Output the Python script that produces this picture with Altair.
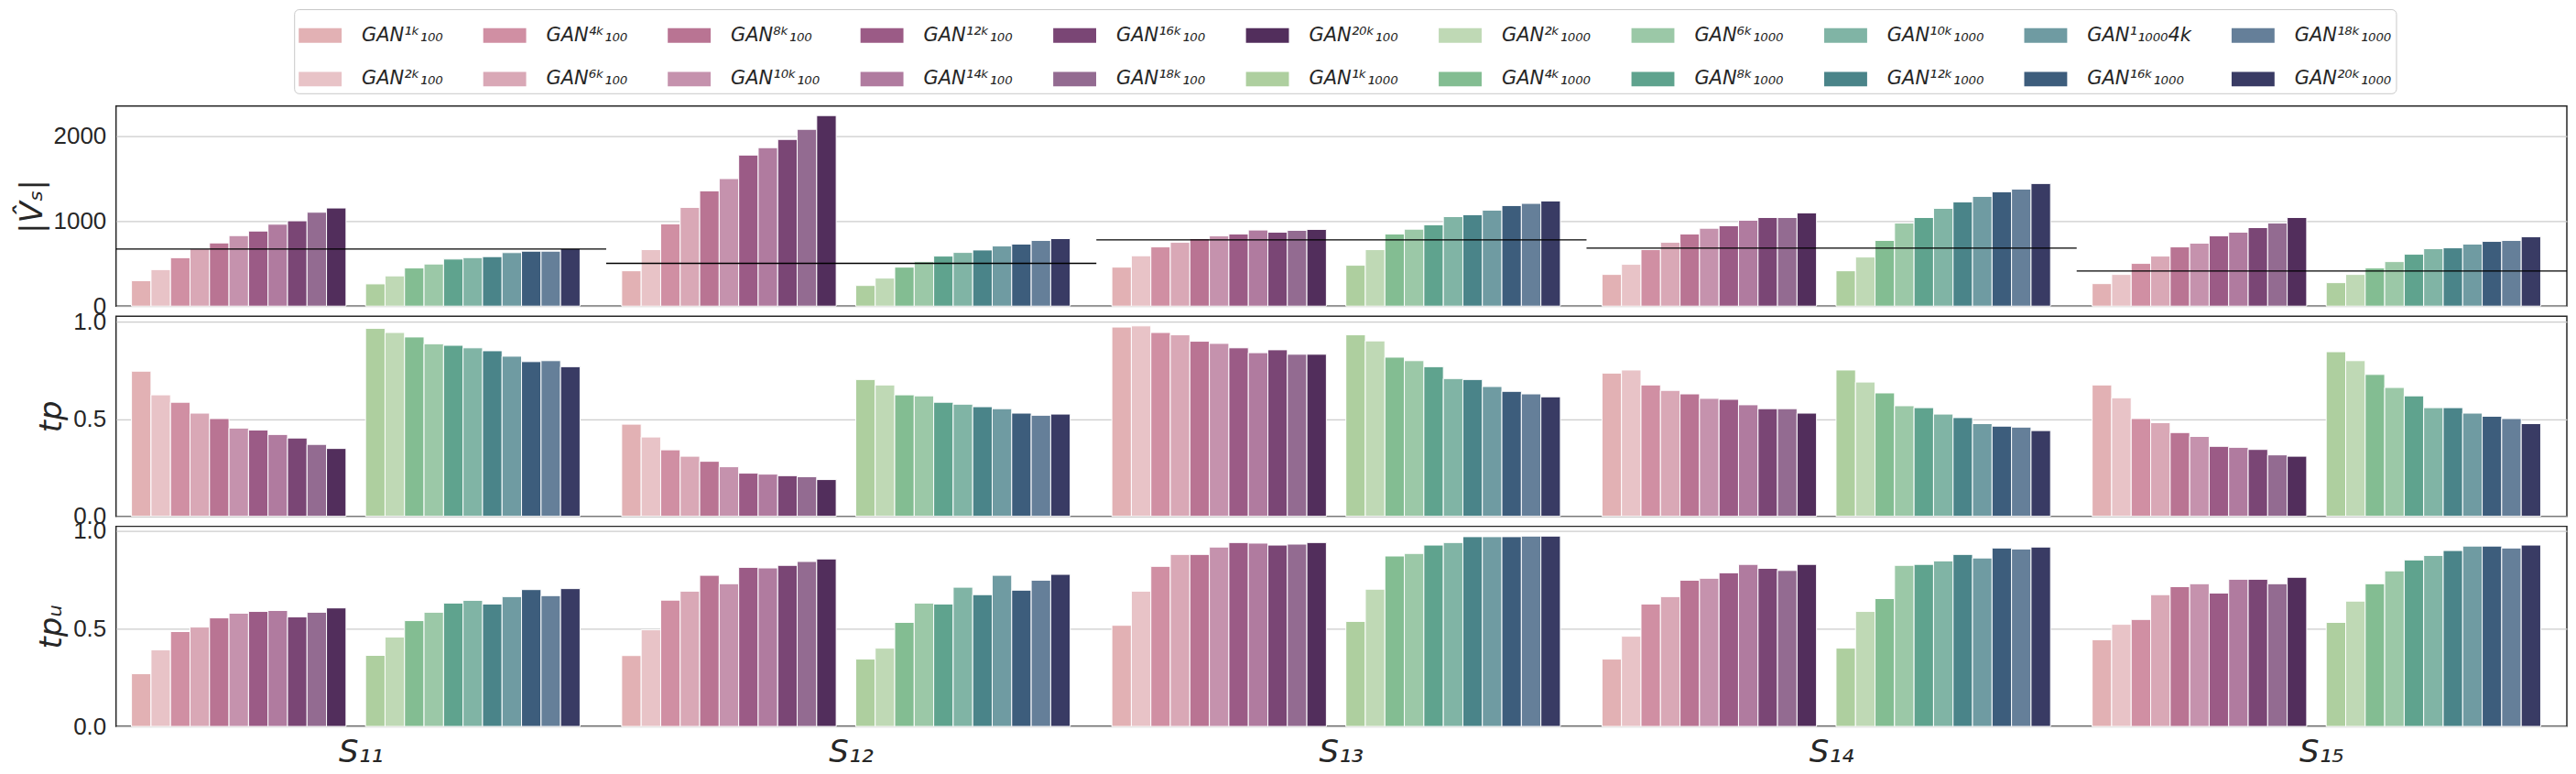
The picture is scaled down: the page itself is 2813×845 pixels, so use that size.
import altair as alt
import pandas as pd

groups = ["S₁₁", "S₁₂", "S₁₃", "S₁₄", "S₁₅"]

labels_100 = ["GAN¹ᵏ₁₀₀", "GAN²ᵏ₁₀₀", "GAN⁴ᵏ₁₀₀", "GAN⁶ᵏ₁₀₀", "GAN⁸ᵏ₁₀₀", "GAN¹⁰ᵏ₁₀₀",
              "GAN¹²ᵏ₁₀₀", "GAN¹⁴ᵏ₁₀₀", "GAN¹⁶ᵏ₁₀₀", "GAN¹⁸ᵏ₁₀₀", "GAN²⁰ᵏ₁₀₀"]
labels_1000 = ["GAN¹ᵏ₁₀₀₀", "GAN²ᵏ₁₀₀₀", "GAN⁴ᵏ₁₀₀₀", "GAN⁶ᵏ₁₀₀₀", "GAN⁸ᵏ₁₀₀₀", "GAN¹⁰ᵏ₁₀₀₀",
               "GAN¹²ᵏ₁₀₀₀", "GAN¹₁₀₀₀4k", "GAN¹⁶ᵏ₁₀₀₀", "GAN¹⁸ᵏ₁₀₀₀", "GAN²⁰ᵏ₁₀₀₀"]

colors_100 = ["#e2b1b4", "#e8c3c7", "#d08fa3", "#d9a8b6", "#b97493", "#c592ad",
              "#9b5b86", "#b07b9f", "#7a4675", "#936b91", "#522e5c"]
colors_1000 = ["#aecf9f", "#bfd9b5", "#83bd92", "#9bc8a7", "#5fa38e", "#80b4a5",
               "#4a8489", "#6f9ba2", "#3d5d7c", "#657f99", "#393b64"]

# |V_S|
vs_100 = [
    [300, 430, 570, 675, 744, 830, 884, 964, 1004, 1105, 1155],
    [416, 665, 968, 1162, 1357, 1501, 1778, 1865, 1962, 2081, 2243],
    [459, 593, 697, 751, 795, 827, 849, 896, 870, 892, 903],
    [373, 492, 665, 751, 849, 917, 946, 1011, 1043, 1043, 1097],
    [265, 373, 503, 589, 697, 741, 827, 870, 924, 978, 1043],
]
vs_1000 = [
    [262, 356, 449, 496, 554, 571, 583, 630, 647, 647, 676],
    [243, 330, 459, 524, 589, 632, 661, 708, 730, 773, 795],
    [481, 665, 849, 906, 957, 1054, 1076, 1130, 1184, 1209, 1238],
    [416, 578, 773, 978, 1043, 1151, 1227, 1292, 1346, 1378, 1443],
    [276, 373, 449, 524, 611, 676, 686, 730, 762, 773, 816],
]
vs_line = [672, 503, 780, 683, 413]

# tp
tp_100 = [
    [0.747, 0.625, 0.587, 0.531, 0.503, 0.454, 0.444, 0.421, 0.403, 0.370, 0.349],
    [0.474, 0.408, 0.342, 0.309, 0.283, 0.255, 0.222, 0.217, 0.209, 0.204, 0.189],
    [0.974, 0.980, 0.946, 0.934, 0.901, 0.890, 0.867, 0.842, 0.857, 0.834, 0.834],
    [0.737, 0.753, 0.676, 0.648, 0.630, 0.607, 0.602, 0.574, 0.554, 0.554, 0.531],
    [0.676, 0.610, 0.503, 0.482, 0.431, 0.411, 0.360, 0.355, 0.344, 0.316, 0.309],
]
tp_1000 = [
    [0.967, 0.946, 0.923, 0.888, 0.880, 0.867, 0.852, 0.824, 0.796, 0.801, 0.770],
    [0.704, 0.676, 0.625, 0.620, 0.587, 0.577, 0.564, 0.554, 0.531, 0.520, 0.526],
    [0.934, 0.903, 0.819, 0.801, 0.770, 0.709, 0.704, 0.668, 0.643, 0.630, 0.615],
    [0.753, 0.691, 0.635, 0.569, 0.559, 0.526, 0.508, 0.477, 0.464, 0.459, 0.441],
    [0.847, 0.801, 0.730, 0.663, 0.620, 0.559, 0.559, 0.531, 0.515, 0.503, 0.477],
]

# tp_u
tpu_100 = [
    [0.270, 0.392, 0.486, 0.509, 0.556, 0.580, 0.589, 0.594, 0.561, 0.585, 0.607],
    [0.363, 0.495, 0.647, 0.693, 0.774, 0.731, 0.815, 0.812, 0.825, 0.845, 0.858],
    [0.518, 0.693, 0.820, 0.881, 0.881, 0.919, 0.942, 0.939, 0.929, 0.934, 0.942],
    [0.345, 0.462, 0.627, 0.665, 0.749, 0.759, 0.787, 0.830, 0.810, 0.799, 0.830],
    [0.444, 0.523, 0.548, 0.675, 0.716, 0.731, 0.683, 0.754, 0.754, 0.731, 0.764],
]
tpu_1000 = [
    [0.364, 0.458, 0.542, 0.585, 0.632, 0.646, 0.627, 0.665, 0.701, 0.670, 0.706],
    [0.345, 0.401, 0.533, 0.632, 0.627, 0.713, 0.675, 0.774, 0.698, 0.749, 0.779],
    [0.538, 0.703, 0.873, 0.886, 0.929, 0.942, 0.972, 0.972, 0.972, 0.975, 0.975],
    [0.401, 0.589, 0.655, 0.825, 0.830, 0.848, 0.881, 0.863, 0.914, 0.909, 0.919],
    [0.533, 0.642, 0.731, 0.797, 0.853, 0.876, 0.901, 0.924, 0.924, 0.914, 0.929],
]

# ---------------------------------------------------------------- tables
rows = []
for metric, a100, a1000 in [("vs", vs_100, vs_1000), ("tp", tp_100, tp_1000), ("tpu", tpu_100, tpu_1000)]:
    for gi, g in enumerate(groups):
        for i, lab in enumerate(labels_100):
            rows.append({"metric": metric, "group": g, "label": lab, "value": a100[gi][i]})
        for i, lab in enumerate(labels_1000):
            rows.append({"metric": metric, "group": g, "label": lab, "value": a1000[gi][i]})
df = pd.DataFrame(rows)
line_df = pd.DataFrame({"group": groups, "value": vs_line})

all_labels = labels_100 + labels_1000
all_colors = colors_100 + colors_1000
color_of = dict(zip(all_labels, all_colors))
# legend laid out in 2 rows; entries listed column by column in the original
legend_order = all_labels[0::2] + all_labels[1::2]
legend_colors = [color_of[l] for l in legend_order]

# empty slots: one between the two series, one after them
offset_domain = labels_100 + ["_gap_"] + labels_1000 + ["_end_"]

INK = "#262626"
W, H = 2683, 219

legend = alt.Legend(
    orient="none", legendX=195, legendY=-106, columns=11, direction="horizontal",
    title=None, symbolType="M-1,-0.34L1,-0.34L1,0.34L-1,0.34Z", symbolSize=2209,
    symbolStrokeWidth=0, symbolOpacity=1,
    labelFont="DejaVu Sans", labelFontSize=21, labelFontStyle="italic", labelColor=INK,
    labelOffset=22, labelLimit=400, columnPadding=44, rowPadding=14, padding=5,
    strokeColor="#c8c8c8", fillColor="white", cornerRadius=5,
)

x_scale = alt.Scale(domain=groups, paddingInner=0, paddingOuter=0)
off_scale = alt.Scale(domain=offset_domain, paddingInner=0, paddingOuter=0.567, align=0.70)


def panel(metric, title, domain, ticks, fmt, show_x):
    if show_x:
        xaxis = alt.Axis(labelAngle=0, labelFont="DejaVu Sans", labelFontStyle="italic",
                         labelFontSize=34, labelPadding=12, labelColor=INK, ticks=False,
                         domain=False, grid=False, title=None)
    else:
        xaxis = None
    bars = alt.Chart(df[df.metric == metric]).mark_bar(stroke="white", strokeWidth=1).encode(
        x=alt.X("group:N", sort=groups, scale=x_scale, axis=xaxis, title=None),
        xOffset=alt.XOffset("label:N", scale=off_scale),
        y=alt.Y("value:Q", scale=alt.Scale(domain=domain, nice=False, zero=True),
                axis=alt.Axis(values=ticks, format=fmt, title=title)),
        color=alt.Color("label:N", scale=alt.Scale(domain=legend_order, range=legend_colors),
                        legend=legend),
    )
    return bars


top_bars = panel("vs", "|V̂ₛ|", [0, 2355], [0, 1000, 2000], "d", False)
top_line = alt.Chart(line_df).mark_rule(color="black", strokeWidth=1.4).encode(
    x=alt.X("group:N", sort=groups, scale=x_scale, bandPosition=0, axis=None),
    x2=alt.X2("group", bandPosition=1),
    y=alt.Y("value:Q"),
)
top = alt.layer(top_bars, top_line).properties(width=W, height=H)
mid = panel("tp", "tp", [0, 1.03], [0, 0.5, 1.0], ".1f", False).properties(width=W, height=H)
bot = panel("tpu", "tpᵤ", [0, 1.025], [0, 0.5, 1.0], ".1f", True).properties(width=W, height=H)

chart = alt.vconcat(top, mid, bot, spacing=11, bounds="flush").properties(
    padding={"left": 9, "top": 0, "right": 0, "bottom": 0},
    background="white",
).configure_view(
    stroke=INK, strokeWidth=1.5,
).configure_axis(
    labelFont="Liberation Sans", labelFontSize=26, labelColor=INK, ticks=False,
    domain=False, labelPadding=11,
    titleFont="DejaVu Sans", titleFontStyle="italic", titleFontSize=34,
    titleFontWeight="normal", titleColor=INK, titlePadding=6,
    gridColor="#cccccc", gridWidth=1.2,
).configure_axisX(grid=False)

chart.save("out.html", embed_options={"renderer": "svg", "actions": False})
